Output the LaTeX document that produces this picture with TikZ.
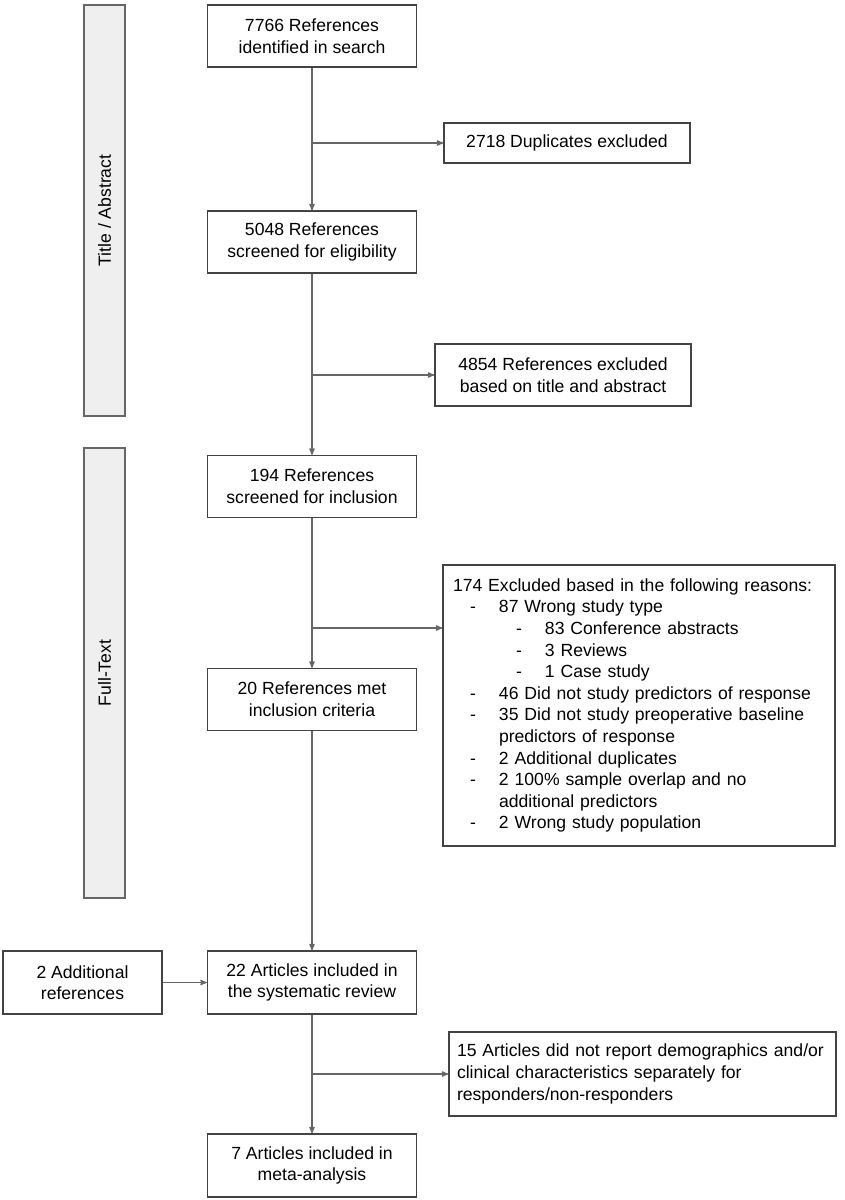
\documentclass[tikz,border=0pt]{standalone}
\usepackage{fontspec}
\setmainfont{Liberation Sans}
\usetikzlibrary{arrows}

\definecolor{boxline}{HTML}{434343}
\definecolor{flowline}{HTML}{666666}
\definecolor{barfill}{HTML}{EFEFEF}

% list lines of the exclusion box
\newcommand{\dashA}[1]{\hspace*{17pt}\makebox[29pt][l]{-}#1}
\newcommand{\dashB}[1]{\hspace*{63pt}\makebox[29pt][l]{-}#1}
\newcommand{\contA}[1]{\hspace*{46pt}#1}

\tikzset{
    stage/.style={draw=boxline, line width=1.4pt, minimum width=209pt, minimum height=62pt, inner sep=0pt, align=center},
    side/.style={draw=boxline, line width=1.4pt, inner sep=0pt, align=center},
    phase/.style={draw=flowline, fill=barfill, line width=1.4pt, minimum height=41pt, inner sep=0pt, rotate=90},
    flow/.style={draw=flowline, line width=1.3pt}
}

\begin{document}
\begin{tikzpicture}[x=1pt, y=-1pt, >=stealth', font=\fontsize{17.6}{21.6}\selectfont]
    \useasboundingbox (0,0) rectangle (844,1200);

    % Phases
    \node [phase, minimum width=411pt]  (tiabbar)  at (104.5,210.5)  {Title / Abstract};
    \node [phase, minimum width=450pt]  (fullbar)  at (104.5,673)    {Full-Text};

    % Nodes on the main column
    \node [stage]  (search)  at (312,36)     {7766 References\\identified in search};
    \node [stage]  (screen)  at (312,242)    {5048 References\\screened for eligibility};
    \node [stage]  (incl)    at (312,486.5)  {194 References\\screened for inclusion};
    \node [stage]  (met)     at (312,699.5)  {20 References met\\inclusion criteria};
    \node [stage, minimum height=63pt]  (review)  at (312,982.5)  {22 Articles included in\\the systematic review};
    \node [stage, minimum height=63pt]  (meta)    at (312,1165.5) {7 Articles included in\\meta-analysis};

    % Nodes on the side
    \node [side, minimum width=246pt, minimum height=40pt]  (dup)     at (567,143)   {2718 Duplicates excluded};
    \node [side, minimum width=256pt, minimum height=62pt]  (tiabex)  at (563,375)   {4854 References excluded\\based on title and abstract};
    \node [side, minimum width=159pt, minimum height=63pt]  (extra)   at (82.5,982.5) {2 Additional\\references};
    \node [side, minimum width=392pt, minimum height=281pt, text width=372pt, align=left]  (reasons)  at (639,705.5) {%
        174 Excluded based in the following reasons:\\
        \dashA{87 Wrong study type}\\
        \dashB{83 Conference abstracts}\\
        \dashB{3 Reviews}\\
        \dashB{1 Case study}\\
        \dashA{46 Did not study predictors of response}\\
        \dashA{35 Did not study preoperative baseline}\\
        \contA{predictors of response}\\
        \dashA{2 Additional duplicates}\\
        \dashA{2 100\% sample overlap and no}\\
        \contA{additional predictors}\\
        \dashA{2 Wrong study population}};
    \node [side, minimum width=387pt, minimum height=84pt, text width=371pt, align=left]  (nodemo)  at (642.5,1074) {%
        \mbox{15 Articles did not report demographics and/or}\\
        clinical characteristics separately for\\
        responders/non-responders};

    % Branch points
    \coordinate (b1) at (search.south |- dup);
    \coordinate (b2) at (screen.south |- tiabex);
    \coordinate (b3) at (312,628);
    \coordinate (b4) at (review.south |- nodemo);

    % Paths
    \path [flow]  (search) edge [->]  (screen);
    \path [flow]  (b1)     edge [->]  (dup);
    \path [flow]  (screen) edge [->]  (incl);
    \path [flow]  (b2)     edge [->]  (tiabex);
    \path [flow]  (incl)   edge [->]  (met);
    \path [flow]  (b3)     edge [->]  (b3 -| reasons.west);
    \path [flow]  (met)    edge [->]  (review);
    \path [flow]  (extra)  edge [->]  (review);
    \path [flow]  (review) edge [->]  (meta);
    \path [flow]  (b4)     edge [->]  (nodemo);

\end{tikzpicture}
\end{document}
